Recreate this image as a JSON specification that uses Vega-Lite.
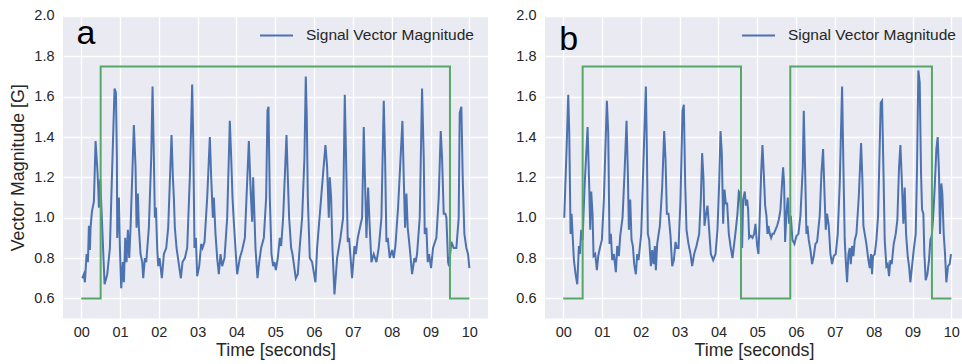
{
  "$schema": "https://vega.github.io/schema/vega-lite/v6.json",
  "padding": {"left": 9, "top": 8, "right": 0, "bottom": 0},
  "background": "white",
  "spacing": 27,
  "datasets": {
    "a_svm": [
      {"t":0.026,"v":0.70},{"t":0.069,"v":0.72},{"t":0.094,"v":0.68},{"t":0.137,"v":0.82},{"t":0.172,"v":0.78},{"t":0.197,"v":0.96},{"t":0.223,"v":0.84},{"t":0.24,"v":0.95},{"t":0.275,"v":1.03},{"t":0.326,"v":1.08},{"t":0.369,"v":1.38},{"t":0.412,"v":1.25},{"t":0.438,"v":1.15},{"t":0.455,"v":1.05},{"t":0.489,"v":1.19},
      {"t":0.601,"v":0.67},{"t":0.67,"v":0.72},{"t":0.738,"v":0.85},{"t":0.79,"v":1.2},{"t":0.858,"v":1.64},{"t":0.893,"v":1.62},{"t":0.918,"v":1.3},{"t":0.927,"v":0.9},{"t":0.97,"v":1.1},{"t":0.996,"v":0.85},
      {"t":1.03,"v":0.65},{"t":1.073,"v":0.78},{"t":1.099,"v":0.68},{"t":1.133,"v":0.9},{"t":1.167,"v":0.78},{"t":1.202,"v":0.94},{"t":1.236,"v":0.8},{"t":1.27,"v":0.95},{"t":1.313,"v":1.2},{"t":1.356,"v":1.46},{"t":1.399,"v":1.25},{"t":1.425,"v":0.95},{"t":1.459,"v":1.12},{"t":1.485,"v":0.95},{"t":1.528,"v":0.82},{"t":1.571,"v":0.78},{"t":1.597,"v":0.7},{"t":1.639,"v":0.8},{"t":1.674,"v":0.78},{"t":1.742,"v":0.95},{"t":1.803,"v":1.3},{"t":1.837,"v":1.65},{"t":1.871,"v":1.3},{"t":1.897,"v":1.0},{"t":1.923,"v":1.05},{"t":1.957,"v":0.85},{"t":1.983,"v":0.76},
      {"t":2.017,"v":0.8},{"t":2.077,"v":0.7},{"t":2.129,"v":0.82},{"t":2.189,"v":0.85},{"t":2.24,"v":0.95},{"t":2.326,"v":1.41},{"t":2.361,"v":1.2},{"t":2.386,"v":1.1},{"t":2.412,"v":0.95},{"t":2.455,"v":0.85},{"t":2.567,"v":0.7},{"t":2.609,"v":0.78},{"t":2.67,"v":0.8},{"t":2.73,"v":0.85},{"t":2.798,"v":1.2},{"t":2.858,"v":1.66},{"t":2.884,"v":1.4},{"t":2.918,"v":0.85},{"t":2.953,"v":0.9},{"t":2.987,"v":0.71},
      {"t":3.039,"v":0.76},{"t":3.09,"v":0.87},{"t":3.124,"v":0.85},{"t":3.176,"v":0.88},{"t":3.245,"v":1.1},{"t":3.313,"v":1.4},{"t":3.348,"v":1.2},{"t":3.391,"v":1.0},{"t":3.416,"v":1.1},{"t":3.459,"v":0.92},{"t":3.502,"v":0.8},{"t":3.545,"v":0.72},{"t":3.588,"v":0.82},{"t":3.631,"v":0.76},{"t":3.691,"v":0.8},{"t":3.76,"v":1.0},{"t":3.828,"v":1.48},{"t":3.863,"v":1.3},{"t":3.897,"v":1.1},{"t":3.931,"v":0.98},{"t":3.983,"v":0.82},
      {"t":4.017,"v":0.72},{"t":4.086,"v":0.8},{"t":4.146,"v":0.84},{"t":4.215,"v":0.9},{"t":4.318,"v":1.38},{"t":4.361,"v":1.15},{"t":4.403,"v":0.98},{"t":4.429,"v":1.2},{"t":4.464,"v":1.0},{"t":4.489,"v":0.85},{"t":4.541,"v":0.7},{"t":4.584,"v":0.78},{"t":4.635,"v":0.85},{"t":4.704,"v":0.9},{"t":4.764,"v":1.1},{"t":4.798,"v":1.53},{"t":4.824,"v":1.55},{"t":4.858,"v":1.1},{"t":4.901,"v":0.82},{"t":4.944,"v":0.76},{"t":4.979,"v":0.78},
      {"t":5.013,"v":0.74},{"t":5.064,"v":0.8},{"t":5.116,"v":0.9},{"t":5.15,"v":0.86},{"t":5.202,"v":1.0},{"t":5.288,"v":1.41},{"t":5.322,"v":1.2},{"t":5.356,"v":1.0},{"t":5.408,"v":0.85},{"t":5.442,"v":0.82},{"t":5.528,"v":0.7},{"t":5.579,"v":0.72},{"t":5.631,"v":0.86},{"t":5.691,"v":1.0},{"t":5.751,"v":1.3},{"t":5.785,"v":1.7},{"t":5.811,"v":1.5},{"t":5.837,"v":1.1},{"t":5.888,"v":0.8},{"t":5.948,"v":0.78},
      {"t":6.034,"v":0.68},{"t":6.077,"v":0.85},{"t":6.223,"v":1.2},{"t":6.292,"v":1.36},{"t":6.335,"v":1.25},{"t":6.378,"v":1.0},{"t":6.403,"v":1.2},{"t":6.438,"v":1.1},{"t":6.472,"v":0.85},{"t":6.524,"v":0.62},{"t":6.592,"v":0.8},{"t":6.635,"v":0.85},{"t":6.678,"v":0.9},{"t":6.747,"v":1.0},{"t":6.79,"v":1.61},{"t":6.833,"v":1.2},{"t":6.867,"v":0.88},{"t":6.901,"v":0.9},{"t":6.979,"v":0.7},
      {"t":7.039,"v":0.86},{"t":7.073,"v":0.82},{"t":7.124,"v":0.9},{"t":7.236,"v":1.0},{"t":7.279,"v":1.45},{"t":7.322,"v":1.1},{"t":7.348,"v":0.9},{"t":7.391,"v":1.15},{"t":7.433,"v":0.95},{"t":7.476,"v":0.78},{"t":7.536,"v":0.82},{"t":7.605,"v":0.78},{"t":7.665,"v":0.85},{"t":7.734,"v":1.0},{"t":7.794,"v":1.58},{"t":7.828,"v":1.3},{"t":7.863,"v":0.88},{"t":7.897,"v":0.9},{"t":7.948,"v":0.8},
      {"t":8.009,"v":0.84},{"t":8.052,"v":0.8},{"t":8.094,"v":0.86},{"t":8.163,"v":1.05},{"t":8.275,"v":1.48},{"t":8.309,"v":1.2},{"t":8.343,"v":0.95},{"t":8.378,"v":1.12},{"t":8.412,"v":0.95},{"t":8.464,"v":0.85},{"t":8.524,"v":0.72},{"t":8.584,"v":0.8},{"t":8.618,"v":0.78},{"t":8.652,"v":0.82},{"t":8.721,"v":1.0},{"t":8.781,"v":1.64},{"t":8.824,"v":1.3},{"t":8.85,"v":0.92},{"t":8.893,"v":0.95},{"t":8.927,"v":0.78},{"t":8.961,"v":0.82},
      {"t":9.013,"v":0.75},{"t":9.064,"v":0.85},{"t":9.15,"v":0.9},{"t":9.21,"v":1.1},{"t":9.262,"v":1.43},{"t":9.296,"v":1.3},{"t":9.339,"v":1.02},{"t":9.382,"v":1.02},{"t":9.408,"v":1.0},{"t":9.451,"v":0.78},{"t":9.476,"v":0.76},{"t":9.536,"v":0.88},{"t":9.597,"v":0.85},{"t":9.665,"v":0.85},{"t":9.725,"v":1.0},{"t":9.751,"v":1.52},{"t":9.794,"v":1.55},{"t":9.828,"v":1.2},{"t":9.871,"v":0.92},{"t":9.923,"v":0.85},{"t":9.966,"v":0.82},{"t":10.0,"v":0.75}
    ],
    "a_act": [
      {"t":0,"v":0.6},{"t":0.5,"v":1.75},{"t":9.5,"v":0.6},{"t":10,"v":0.6}
    ],
    "b_svm": [
      {"t":0.026,"v":1.0},{"t":0.086,"v":1.34},{"t":0.129,"v":1.61},{"t":0.155,"v":1.42},{"t":0.189,"v":0.92},{"t":0.215,"v":1.02},{"t":0.24,"v":0.92},{"t":0.275,"v":0.79},{"t":0.318,"v":0.72},{"t":0.361,"v":0.67},{"t":0.403,"v":0.86},{"t":0.429,"v":0.82},{"t":0.464,"v":0.94},{"t":0.498,"v":0.89},
      {"t":0.549,"v":1.15},{"t":0.627,"v":1.45},{"t":0.67,"v":1.15},{"t":0.695,"v":0.94},{"t":0.721,"v":1.13},{"t":0.755,"v":1.02},{"t":0.781,"v":0.81},{"t":0.824,"v":0.82},{"t":0.867,"v":0.74},{"t":0.901,"v":0.81},{"t":0.944,"v":0.85},{"t":0.996,"v":0.89},
      {"t":1.047,"v":1.09},{"t":1.124,"v":1.58},{"t":1.159,"v":1.42},{"t":1.193,"v":0.87},{"t":1.227,"v":0.92},{"t":1.262,"v":0.79},{"t":1.305,"v":0.82},{"t":1.356,"v":0.73},{"t":1.391,"v":0.86},{"t":1.433,"v":0.81},{"t":1.468,"v":0.91},{"t":1.528,"v":1.0},{"t":1.579,"v":1.22},{"t":1.631,"v":1.48},{"t":1.665,"v":1.22},{"t":1.691,"v":0.94},{"t":1.725,"v":1.09},{"t":1.76,"v":0.89},{"t":1.794,"v":0.86},{"t":1.828,"v":0.77},{"t":1.871,"v":0.72},{"t":1.906,"v":0.82},{"t":1.94,"v":0.79},
      {"t":2.009,"v":0.92},{"t":2.077,"v":1.34},{"t":2.129,"v":1.65},{"t":2.155,"v":1.34},{"t":2.18,"v":0.92},{"t":2.215,"v":0.89},{"t":2.258,"v":0.76},{"t":2.292,"v":0.84},{"t":2.326,"v":0.77},{"t":2.361,"v":0.86},{"t":2.386,"v":0.74},{"t":2.421,"v":0.87},{"t":2.489,"v":0.96},{"t":2.549,"v":1.15},{"t":2.601,"v":1.43},{"t":2.635,"v":1.29},{"t":2.67,"v":1.02},{"t":2.712,"v":1.02},{"t":2.764,"v":0.91},{"t":2.807,"v":0.76},{"t":2.85,"v":0.79},{"t":2.893,"v":0.88},{"t":2.927,"v":0.85},{"t":2.97,"v":0.85},
      {"t":3.021,"v":1.09},{"t":3.073,"v":1.53},{"t":3.107,"v":1.56},{"t":3.142,"v":1.17},{"t":3.176,"v":0.94},{"t":3.227,"v":0.87},{"t":3.279,"v":0.82},{"t":3.322,"v":0.76},{"t":3.373,"v":0.82},{"t":3.433,"v":0.86},{"t":3.502,"v":0.92},{"t":3.545,"v":1.09},{"t":3.579,"v":1.32},{"t":3.614,"v":1.19},{"t":3.639,"v":0.96},{"t":3.674,"v":1.01},{"t":3.717,"v":1.06},{"t":3.76,"v":0.94},{"t":3.803,"v":0.82},{"t":3.863,"v":0.79},{"t":3.923,"v":0.82},{"t":3.974,"v":0.94},
      {"t":4.017,"v":1.17},{"t":4.052,"v":1.43},{"t":4.086,"v":1.32},{"t":4.12,"v":0.97},{"t":4.155,"v":1.14},{"t":4.189,"v":1.07},{"t":4.223,"v":1.07},{"t":4.266,"v":0.92},{"t":4.309,"v":0.86},{"t":4.361,"v":0.8},{"t":4.404,"v":0.87},{"t":4.446,"v":0.94},{"t":4.489,"v":1.02},{"t":4.524,"v":1.13},{"t":4.558,"v":1.12},{"t":4.609,"v":0.85},{"t":4.635,"v":1.09},{"t":4.678,"v":1.13},{"t":4.704,"v":1.06},{"t":4.738,"v":1.09},{"t":4.764,"v":1.04},{"t":4.79,"v":0.9},{"t":4.833,"v":0.91},{"t":4.876,"v":0.9},{"t":4.918,"v":0.92},{"t":4.953,"v":0.97},{"t":4.996,"v":0.86},
      {"t":5.03,"v":0.82},{"t":5.064,"v":1.01},{"t":5.099,"v":1.22},{"t":5.133,"v":1.36},{"t":5.167,"v":1.22},{"t":5.202,"v":1.06},{"t":5.236,"v":1.01},{"t":5.262,"v":0.92},{"t":5.288,"v":0.96},{"t":5.322,"v":0.92},{"t":5.356,"v":0.9},{"t":5.391,"v":0.92},{"t":5.425,"v":0.92},{"t":5.468,"v":0.94},{"t":5.511,"v":0.96},{"t":5.554,"v":0.99},{"t":5.597,"v":1.04},{"t":5.631,"v":1.15},{"t":5.665,"v":1.25},{"t":5.691,"v":1.17},{"t":5.717,"v":0.88},{"t":5.751,"v":1.02},{"t":5.785,"v":1.1},{"t":5.82,"v":0.97},{"t":5.863,"v":1.01},{"t":5.906,"v":0.89},{"t":5.957,"v":0.87},
      {"t":6.009,"v":0.91},{"t":6.06,"v":0.92},{"t":6.112,"v":1.01},{"t":6.172,"v":1.25},{"t":6.197,"v":1.53},{"t":6.232,"v":1.24},{"t":6.266,"v":0.92},{"t":6.292,"v":0.96},{"t":6.326,"v":0.89},{"t":6.369,"v":0.84},{"t":6.412,"v":0.77},{"t":6.455,"v":0.81},{"t":6.498,"v":0.87},{"t":6.541,"v":0.88},{"t":6.609,"v":1.01},{"t":6.652,"v":1.22},{"t":6.695,"v":1.34},{"t":6.73,"v":1.13},{"t":6.764,"v":0.94},{"t":6.798,"v":1.02},{"t":6.841,"v":0.96},{"t":6.884,"v":0.82},{"t":6.927,"v":0.77},{"t":6.97,"v":0.81},
      {"t":7.021,"v":0.82},{"t":7.073,"v":0.92},{"t":7.124,"v":1.17},{"t":7.185,"v":1.65},{"t":7.219,"v":1.25},{"t":7.253,"v":0.89},{"t":7.279,"v":0.79},{"t":7.313,"v":0.68},{"t":7.348,"v":0.82},{"t":7.382,"v":0.85},{"t":7.408,"v":0.77},{"t":7.442,"v":0.86},{"t":7.476,"v":0.81},{"t":7.511,"v":0.89},{"t":7.554,"v":0.92},{"t":7.614,"v":1.1},{"t":7.674,"v":1.37},{"t":7.708,"v":1.19},{"t":7.734,"v":0.96},{"t":7.768,"v":0.92},{"t":7.811,"v":0.87},{"t":7.863,"v":0.79},{"t":7.897,"v":0.75},{"t":7.931,"v":0.82},{"t":7.957,"v":0.72},{"t":7.983,"v":0.81},
      {"t":8.026,"v":0.82},{"t":8.069,"v":0.89},{"t":8.112,"v":1.01},{"t":8.18,"v":1.57},{"t":8.215,"v":1.58},{"t":8.249,"v":1.25},{"t":8.283,"v":0.89},{"t":8.326,"v":0.76},{"t":8.361,"v":0.77},{"t":8.395,"v":0.71},{"t":8.429,"v":0.79},{"t":8.464,"v":0.77},{"t":8.515,"v":0.87},{"t":8.567,"v":0.92},{"t":8.609,"v":0.99},{"t":8.652,"v":1.25},{"t":8.687,"v":1.36},{"t":8.721,"v":1.2},{"t":8.764,"v":0.97},{"t":8.798,"v":1.15},{"t":8.833,"v":0.92},{"t":8.876,"v":0.81},{"t":8.91,"v":0.76},{"t":8.944,"v":0.68},{"t":8.987,"v":0.76},
      {"t":9.03,"v":0.84},{"t":9.082,"v":0.92},{"t":9.116,"v":1.25},{"t":9.15,"v":1.73},{"t":9.185,"v":1.67},{"t":9.219,"v":1.22},{"t":9.245,"v":1.04},{"t":9.279,"v":1.02},{"t":9.305,"v":0.82},{"t":9.339,"v":0.69},{"t":9.382,"v":0.72},{"t":9.425,"v":0.79},{"t":9.459,"v":0.89},{"t":9.494,"v":0.91},{"t":9.528,"v":0.99},{"t":9.571,"v":1.15},{"t":9.614,"v":1.34},{"t":9.648,"v":1.4},{"t":9.682,"v":1.22},{"t":9.708,"v":0.92},{"t":9.742,"v":1.17},{"t":9.768,"v":1.12},{"t":9.803,"v":0.92},{"t":9.837,"v":0.82},{"t":9.871,"v":0.68},{"t":9.914,"v":0.76},{"t":9.957,"v":0.77},{"t":9.991,"v":0.82}
    ],
    "b_act": [
      {"t":0,"v":0.6},{"t":0.5,"v":1.75},{"t":4.58,"v":0.6},{"t":5.85,"v":1.75},{"t":9.5,"v":0.6},{"t":10,"v":0.6}
    ]
  },
  "hconcat": [
    {
      "width": 425,
      "height": 302.6,
      "resolve": {"scale": {"color": "independent"}},
      "layer": [
        {
          "data": {"name": "a_svm"},
          "mark": {"type": "line", "strokeWidth": 2},
          "encoding": {
            "x": {"field": "t", "type": "quantitative", "scale": {"domain": [-0.47, 10.48], "nice": false, "zero": false},
                  "axis": {"title": "Time [seconds]", "values": [0,1,2,3,4,5,6,7,8,9,10], "labelExpr": "datum.value < 10 ? '0' + datum.value : '' + datum.value"}},
            "y": {"field": "v", "type": "quantitative", "scale": {"domain": [0.5, 2.0], "nice": false, "zero": false},
                  "axis": {"title": "Vector Magnitude [G]", "values": [0.6,0.8,1.0,1.2,1.4,1.6,1.8,2.0], "format": ".1f"}},
            "color": {"datum": "Signal Vector Magnitude", "scale": {"range": ["#4C72B0"]},
                      "legend": {"title": null, "orient": "none", "legendX": 196, "legendY": 2, "symbolType": "stroke", "symbolSize": 1089, "symbolStrokeWidth": 2, "labelOffset": 12, "labelFontSize": 15.5, "labelLimit": 400, "labelFont": "Liberation Sans", "labelColor": "#262626", "padding": 0}}
          }
        },
        {
          "data": {"name": "a_act"},
          "mark": {"type": "line", "color": "#55A868", "strokeWidth": 2, "interpolate": "step-after"},
          "encoding": {
            "x": {"field": "t", "type": "quantitative"},
            "y": {"field": "v", "type": "quantitative"}
          }
        },
        {
          "data": {"values": [{"t": -0.12, "v": 1.86, "label": "a"}]},
          "mark": {"type": "text", "align": "left", "baseline": "alphabetic", "fontSize": 34, "font": "Liberation Sans", "color": "black"},
          "encoding": {
            "x": {"field": "t", "type": "quantitative"},
            "y": {"field": "v", "type": "quantitative"},
            "text": {"field": "label"}
          }
        }
      ]
    },
    {
      "width": 418,
      "height": 302.6,
      "resolve": {"scale": {"color": "independent"}},
      "layer": [
        {
          "data": {"name": "b_svm"},
          "mark": {"type": "line", "strokeWidth": 2},
          "encoding": {
            "x": {"field": "t", "type": "quantitative", "scale": {"domain": [-0.47, 10.3], "nice": false, "zero": false},
                  "axis": {"title": "Time [seconds]", "values": [0,1,2,3,4,5,6,7,8,9,10], "labelExpr": "datum.value < 10 ? '0' + datum.value : '' + datum.value"}},
            "y": {"field": "v", "type": "quantitative", "scale": {"domain": [0.5, 2.0], "nice": false, "zero": false},
                  "axis": {"title": null, "values": [0.6,0.8,1.0,1.2,1.4,1.6,1.8,2.0], "format": ".1f"}},
            "color": {"datum": "Signal Vector Magnitude", "scale": {"range": ["#4C72B0"]},
                      "legend": {"title": null, "orient": "none", "legendX": 196, "legendY": 2, "symbolType": "stroke", "symbolSize": 1089, "symbolStrokeWidth": 2, "labelOffset": 12, "labelFontSize": 15.5, "labelLimit": 400, "labelFont": "Liberation Sans", "labelColor": "#262626", "padding": 0}}
          }
        },
        {
          "data": {"name": "b_act"},
          "mark": {"type": "line", "color": "#55A868", "strokeWidth": 2, "interpolate": "step-after"},
          "encoding": {
            "x": {"field": "t", "type": "quantitative"},
            "y": {"field": "v", "type": "quantitative"}
          }
        },
        {
          "data": {"values": [{"t": -0.1, "v": 1.83, "label": "b"}]},
          "mark": {"type": "text", "align": "left", "baseline": "alphabetic", "fontSize": 34, "font": "Liberation Sans", "color": "black"},
          "encoding": {
            "x": {"field": "t", "type": "quantitative"},
            "y": {"field": "v", "type": "quantitative"},
            "text": {"field": "label"}
          }
        }
      ]
    }
  ],
  "resolve": {"scale": {"color": "independent"}, "legend": {"color": "independent"}},
  "config": {
    "view": {"fill": "#EAEAF2", "stroke": null},
    "axis": {
      "grid": true, "gridColor": "white", "gridWidth": 1.3, "domain": false, "ticks": false, "tickSize": 0,
      "labelFont": "Liberation Sans", "labelFontSize": 14.5, "labelColor": "#262626", "labelPadding": 9,
      "titleFont": "Liberation Sans", "titleFontSize": 17.8, "titleFontWeight": "normal", "titleColor": "#262626", "titlePadding": 6
    },
    "axisX": {"labelPadding": 7, "titlePadding": 2},
    "legend": {"labelFont": "Liberation Sans"}
  }
}
